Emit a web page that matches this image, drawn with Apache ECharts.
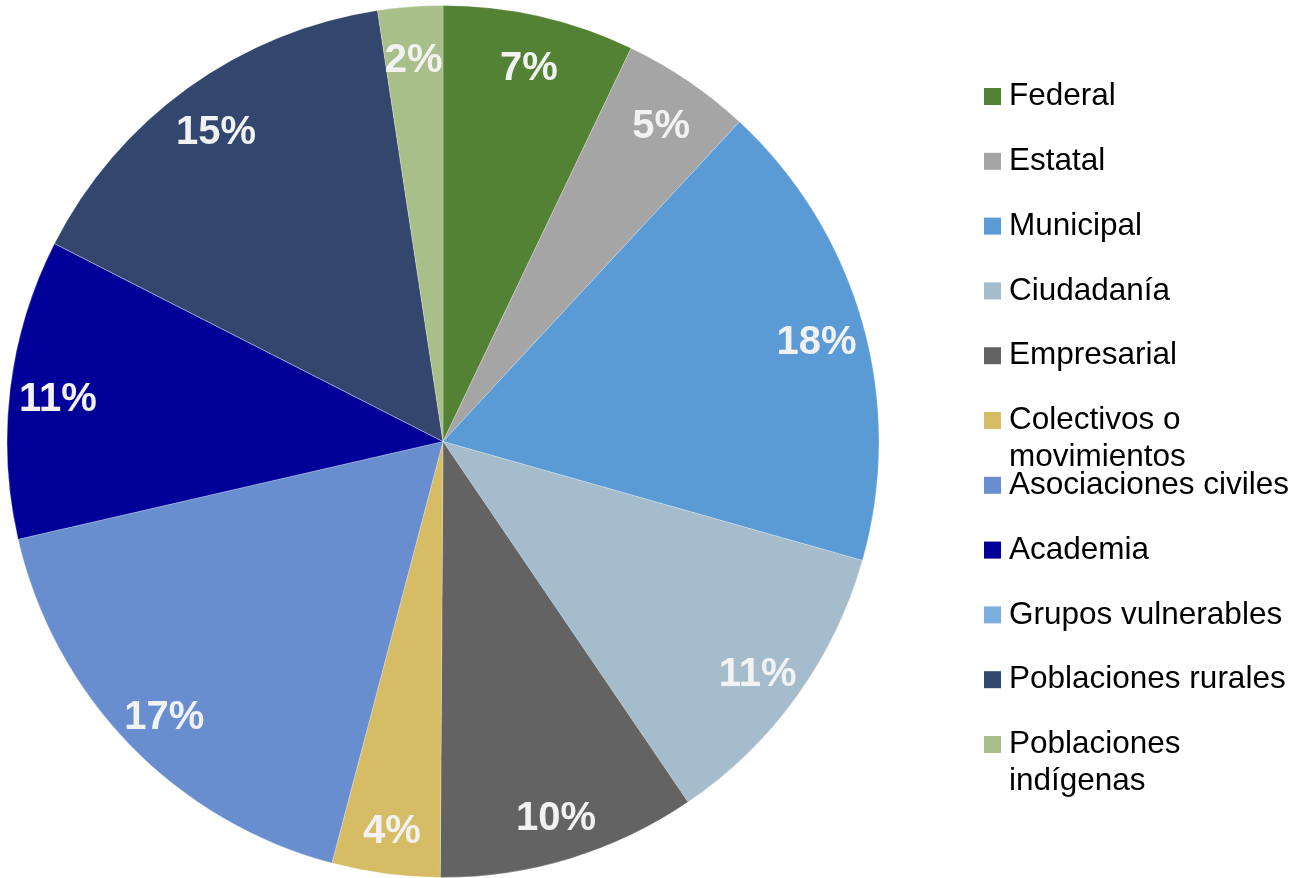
<!DOCTYPE html>
<html>
<head>
<meta charset="utf-8">
<script src="https://cdn.jsdelivr.net/npm/echarts@6/dist/echarts.min.js"></script>
<style>
  html, body { margin: 0; padding: 0; background: #fff; }
  #chart { width: 1314px; height: 878px; }
</style>
</head>
<body>
<div id="chart"></div>
<script>
// sectores participantes (porcentaje)
const categories = ['Federal', 'Estatal', 'Municipal', 'Ciudadanía', 'Empresarial',
  'Colectivos o movimientos', 'Asociaciones civiles', 'Academia', 'Grupos vulnerables',
  'Poblaciones rurales', 'Poblaciones indígenas']
const values = [7.1, 4.8, 17.5, 11.1, 9.6, 4.0, 17.3, 11.1, 0, 15.1, 2.4]
const colors = ['#548235', '#a5a5a5', '#5b9bd5', '#a5bccc', '#636363',
  '#d7bc66', '#698ed0', '#000099', '#7cafdd', '#33476e', '#a9bf8a']
// nombres que ocupan dos renglones en la leyenda
const wrapped = ['Colectivos o movimientos', 'Poblaciones indígenas']

const LINE_H = 37
const FONT = 'Liberation Sans, Arial, sans-serif'

const pieData = categories.map((name, i) => ({
  name: name,
  value: values[i],
  itemStyle: { color: colors[i] }
}))

// el segundo renglón cuelga debajo del primero (como en Excel)
function legendLabel(name) {
  if (!wrapped.includes(name)) return name
  const k = name.lastIndexOf(' ')
  return name.slice(0, k) + '\n{l2|' + name.slice(k + 1) + '}'
}

// una leyenda por elemento para mantener el paso uniforme de Excel
const legends = categories.map((name, i) => ({
  data: [name],
  orient: 'vertical',
  left: 984,
  top: 78 + i * 64.8,
  padding: 0,
  icon: 'rect',
  itemWidth: 17,
  itemHeight: 17,
  selectedMode: false,
  itemStyle: { borderWidth: 0 },
  formatter: legendLabel,
  textStyle: {
    fontFamily: FONT,
    fontSize: 31.5,
    color: '#000',
    lineHeight: LINE_H,
    padding: [0, 0, 0, 3],
    rich: {
      l2: {
        fontFamily: FONT,
        fontSize: 31.5,
        color: '#000',
        lineHeight: 0.01,
        height: LINE_H,
        verticalAlign: 'top'
      }
    }
  }
}))

const chart = echarts.init(document.getElementById('chart'))
chart.setOption({
  animation: false,
  legend: legends,
  series: [
    {
      // sectores
      type: 'pie',
      center: [443, 441.5],
      radius: [0, 436],
      startAngle: 90,
      clockwise: true,
      minAngle: 0,
      avoidLabelOverlap: false,
      silent: true,
      itemStyle: { borderColor: 'rgba(255,255,255,0.4)', borderWidth: 0.6 },
      label: { show: false },
      labelLine: { show: false },
      data: pieData
    },
    {
      // etiquetas cerca del borde (anillo invisible)
      type: 'pie',
      center: [443, 441.5],
      radius: [334, 436],
      startAngle: 90,
      clockwise: true,
      minAngle: 0,
      avoidLabelOverlap: false,
      silent: true,
      percentPrecision: 0,
      itemStyle: { color: 'rgba(0,0,0,0)', borderWidth: 0 },
      label: {
        show: true,
        position: 'inside',
        offset: [0, 6],
        fontFamily: FONT,
        fontWeight: 'bold',
        fontSize: 40,
        color: '#f2f2f2',
        formatter: p => (p.value ? p.percent + '%' : '')
      },
      labelLine: { show: false },
      data: categories.map((name, i) => ({ name: name, value: values[i] }))
    }
  ]
})
</script>
</body>
</html>
